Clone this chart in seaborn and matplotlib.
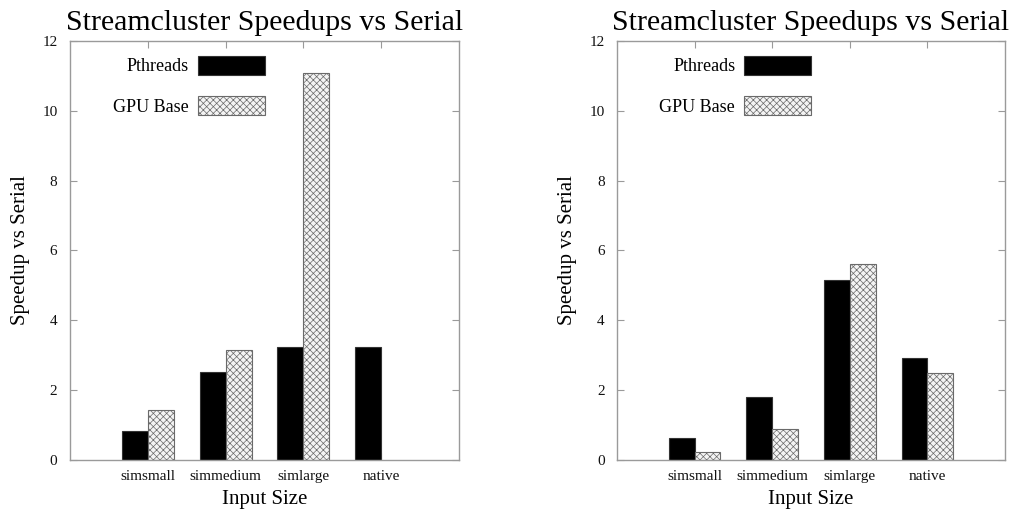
import matplotlib
matplotlib.use("Agg")
import matplotlib.pyplot as plt
import seaborn as sns
import numpy as np
import pandas as pd
from matplotlib.patches import Patch

categories = ["simsmall", "simmedium", "simlarge", "native"]
series = ["Pthreads", "GPU Base"]
left_pthreads = [0.83, 2.52, 3.24, 3.24]
left_gpu = [1.43, 3.16, 11.08, np.nan]
right_pthreads = [0.63, 1.79, 5.16, 2.93]
right_gpu = [0.23, 0.88, 5.61, 2.49]
yticks = [0, 2, 4, 6, 8, 10, 12]
title = "Streamcluster Speedups vs Serial"
xlabel = "Input Size"
ylabel = "Speedup vs Serial"

sns.set_theme(style="white")
plt.rcParams["font.family"] = ["Liberation Serif", "DejaVu Serif"]
plt.rcParams["hatch.linewidth"] = 0.5
plt.rcParams["text.color"] = "black"
plt.rcParams["axes.labelcolor"] = "black"

SPINE = "#9a9a9a"
HATCH_EDGE = "#6a6a6a"
HATCH = "xxxxx"


def make_df(p, g):
    rows = []
    for c, v in zip(categories, p):
        rows.append({"cat": c, "series": series[0], "val": v})
    for c, v in zip(categories, g):
        rows.append({"cat": c, "series": series[1], "val": v})
    return pd.DataFrame(rows)


fig = plt.figure(figsize=(10.14, 5.12), dpi=100)
axes = [fig.add_axes([70 / 1014, 0.1016, 389 / 1014, 0.8184]),
        fig.add_axes([617 / 1014, 0.1016, 388 / 1014, 0.8184])]

for ax, (p, g) in zip(axes, [(left_pthreads, left_gpu), (right_pthreads, right_gpu)]):
    df = make_df(p, g)
    sns.barplot(data=df, x="cat", y="val", hue="series", order=categories,
                hue_order=series, palette=["black", "white"], width=0.667,
                legend=False, ax=ax, saturation=1, errorbar=None)
    for cont, ser in zip(ax.containers, series):
        for bar in cont:
            if ser == "GPU Base":
                bar.set_facecolor("#f4f4f4")
                bar.set_edgecolor(HATCH_EDGE)
                bar.set_hatch(HATCH)
                bar.set_linewidth(0.8)
            else:
                bar.set_facecolor("black")
                bar.set_edgecolor("#333333")
                bar.set_linewidth(0.8)
    ax.set_xlim(-1, 4)
    ax.set_ylim(0, 12)
    ax.set_yticks(yticks)
    ax.set_yticklabels([str(t) for t in yticks], fontsize=11, color="#111111")
    ax.set_xticks(range(len(categories)))
    ax.set_xticklabels(categories, fontsize=11, color="#111111")
    ax.tick_params(axis="both", direction="in", length=5, color=SPINE,
                   top=True, right=True, bottom=True, left=True, width=0.8)
    ax.tick_params(axis="x", pad=7)
    ax.tick_params(axis="y", pad=9)
    for s in ax.spines.values():
        s.set_color(SPINE)
        s.set_linewidth(1.0)
        s.set_visible(True)
    ax.set_xlabel(xlabel, fontsize=15, labelpad=5, color="black")
    ax.set_ylabel(ylabel, fontsize=15, labelpad=9, color="black")
    ax.set_title(title, fontsize=21.5, pad=8, color="black")
    handles = [Patch(facecolor="black", edgecolor="#333333", linewidth=0.8),
               Patch(facecolor="#f4f4f4", edgecolor=HATCH_EDGE, hatch=HATCH, linewidth=0.8)]
    ax.legend(handles, series, loc="upper right", bbox_to_anchor=(0.5, 0.965),
              frameon=False, markerfirst=False, fontsize=13, handlelength=3.7,
              handleheight=1.25, labelspacing=1.15, borderpad=0, borderaxespad=0,
              handletextpad=0.5, labelcolor="black")

fig.savefig("out.png", dpi=100)
